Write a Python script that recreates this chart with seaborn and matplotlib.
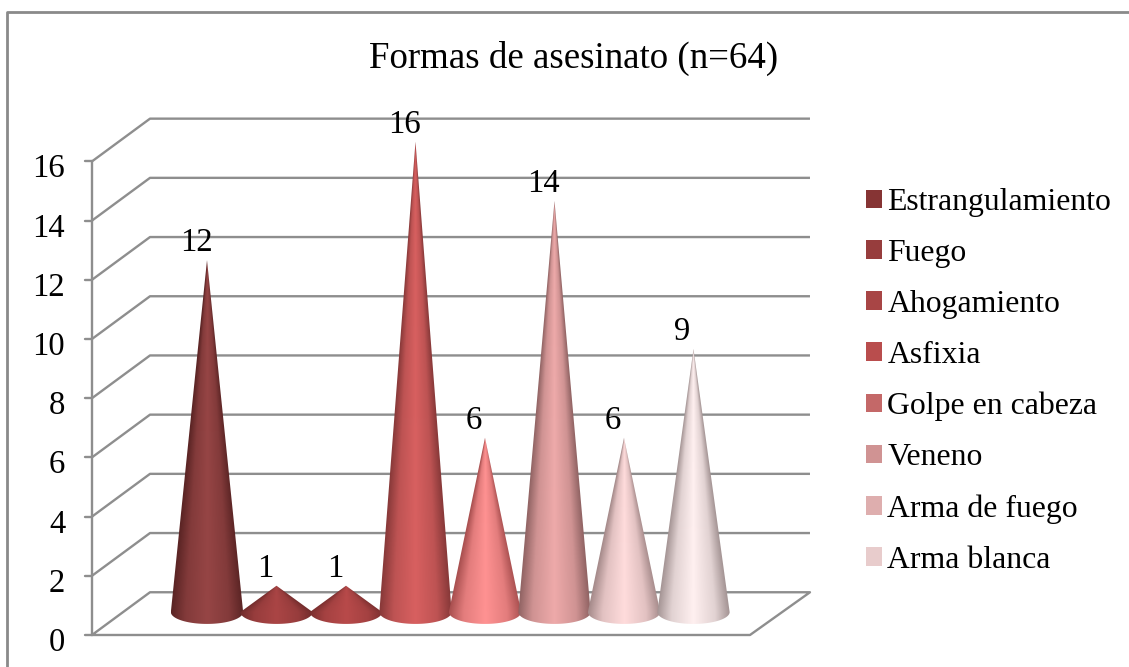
import numpy as np
import pandas as pd
import matplotlib
matplotlib.use("Agg")
import matplotlib.pyplot as plt
from matplotlib.colors import LinearSegmentedColormap, to_rgb
from matplotlib.patches import Patch, Polygon
from matplotlib.lines import Line2D
import seaborn as sns

# data
categories = ["Estrangulamiento", "Fuego", "Ahogamiento", "Asfixia",
              "Golpe en cabeza", "Veneno", "Arma de fuego", "Arma blanca"]
values = [12, 1, 1, 16, 6, 14, 6, 9]
legend_colors = ["#863434", "#973d3d", "#a84545", "#b94d4d",
                 "#c46868", "#d09393", "#deaeae", "#e8cccc"]
edge_colors = ["#5a2424", "#702b2b", "#7a2f2f", "#863838",
               "#a84f4f", "#8f6262", "#a58a8a", "#a39393"]
mid_colors = ["#964545", "#aa4545", "#b84a4a", "#d86060",
              "#ff9292", "#eeaaaa", "#ffdcdc", "#fff0f0"]
y_ticks = [0, 2, 4, 6, 8, 10, 12, 14, 16]
title = "Formas de asesinato (n=64)"

W, H = 1129, 667
sns.set_theme(style="white")
plt.rcParams["font.family"] = ["Liberation Serif", "DejaVu Serif"]

fig = plt.figure(figsize=(W / 100, H / 100), dpi=100)
ax = fig.add_axes([0, 0, 1, 1])

df = pd.DataFrame({"forma": categories, "n": values})
sns.barplot(data=df, x="forma", y="n", hue="forma", palette=legend_colors,
            width=1.04, legend=False, ax=ax)

# one x unit is a category step, one y unit is one murder
xlim = (-207 / 69.5, (W - 207) / 69.5)
ylim = ((618 - H) / 29.6, 618 / 29.6)

# 3d box: depth offsets of the walls
y_front, y_back = -0.574, 0.87
x_front_l, x_back_l = -1.655, -0.82
x_front_r, x_back_r = 7.813, 8.676
grid_c = "#8e8e8e"
lw = 1.7

for g in y_ticks[1:]:
    ax.plot([x_front_l, x_back_l, x_back_r], [g + y_front, g + y_back, g + y_back],
            color=grid_c, lw=lw, zorder=1, solid_capstyle="butt")
ax.plot([x_front_l, x_back_l, x_back_r, x_front_r, x_front_l],
        [y_front, y_back, y_back, y_front, y_front], color=grid_c, lw=lw, zorder=1)
ax.plot([x_front_l, x_front_l], [y_front, y_ticks[-1] + y_front], color=grid_c, lw=lw, zorder=1)
for g in y_ticks:
    ax.plot([x_front_l - 0.1, x_front_l], [g + y_front, g + y_front], color=grid_c, lw=lw, zorder=1)
    ax.text(-2.04, g + y_front - 0.26, str(g), ha="right", va="center", fontsize=23.5, color="black")

# cones from the bars that seaborn laid out
base_y, base_b = 0.2, 0.4
apex_lift = 0.09
for i, bar in enumerate(ax.patches[:len(values)]):
    xc = bar.get_x() + bar.get_width() / 2
    hw = bar.get_width() / 2
    top = bar.get_height() + apex_lift
    bar.set_visible(False)

    # dark only close to the rim, like the shaded cones of the original
    e, m = np.array(to_rgb(edge_colors[i])), np.array(to_rgb(mid_colors[i]))
    shoulder = e + 0.68 * (m - e)
    cmap = LinearSegmentedColormap.from_list(
        "c", [(0, e), (0.2, shoulder), (0.5, m), (0.8, shoulder), (1, e)])
    xs = np.linspace(xc - hw, xc + hw, 300)
    ys = np.linspace(base_y - base_b, top, 500)
    X, Y = np.meshgrid(xs, ys)
    half = hw * np.clip((top - Y) / (top - base_y), 0.002, 1)
    t = np.clip((X - xc) / half, -1, 1)
    im = ax.imshow(t, cmap=cmap, vmin=-1, vmax=1, origin="lower", aspect="auto",
                   extent=(xc - hw, xc + hw, base_y - base_b, top), zorder=3 + i * 0.01,
                   interpolation="bilinear")
    a = np.linspace(np.pi, 2 * np.pi, 60)
    outline = np.vstack([[[xc, top]], np.column_stack([xc + hw * np.cos(a), base_y + base_b * np.sin(a)])])
    clip = Polygon(outline, closed=True, transform=ax.transData, fc="none", ec="none")
    ax.add_patch(clip)
    im.set_clip_path(clip)

    ax.annotate(str(values[i]), (xc, bar.get_height()), xytext=(-11, 20), textcoords="offset pixels",
                ha="center", va="center", fontsize=23.5, color="black", zorder=5)

ax.set_xlim(xlim)
ax.set_ylim(ylim)
ax.axis("off")

ax.text((369 + 779) / 2 / W, 1 - 58 / H, title, transform=ax.transAxes, ha="center", va="center",
        fontsize=26.6, color="black")

# chart frame, only left and top show in the picture
fig.add_artist(Line2D([6.5 / W, 6.5 / W, 1], [0, 1 - 11.5 / H, 1 - 11.5 / H], color="#8a8a8a", lw=2))

handles = [Patch(facecolor=c, edgecolor="none", label=n) for c, n in zip(legend_colors, categories)]
ax.legend(handles=handles, loc="upper left", bbox_to_anchor=(866 / W, 1 - 188 / H), frameon=False,
          fontsize=22.9, labelcolor="black", handlelength=0.51, handleheight=0.51, handletextpad=0.16,
          labelspacing=0.69, borderpad=0, borderaxespad=0)

fig.savefig("out.png", dpi=100)
